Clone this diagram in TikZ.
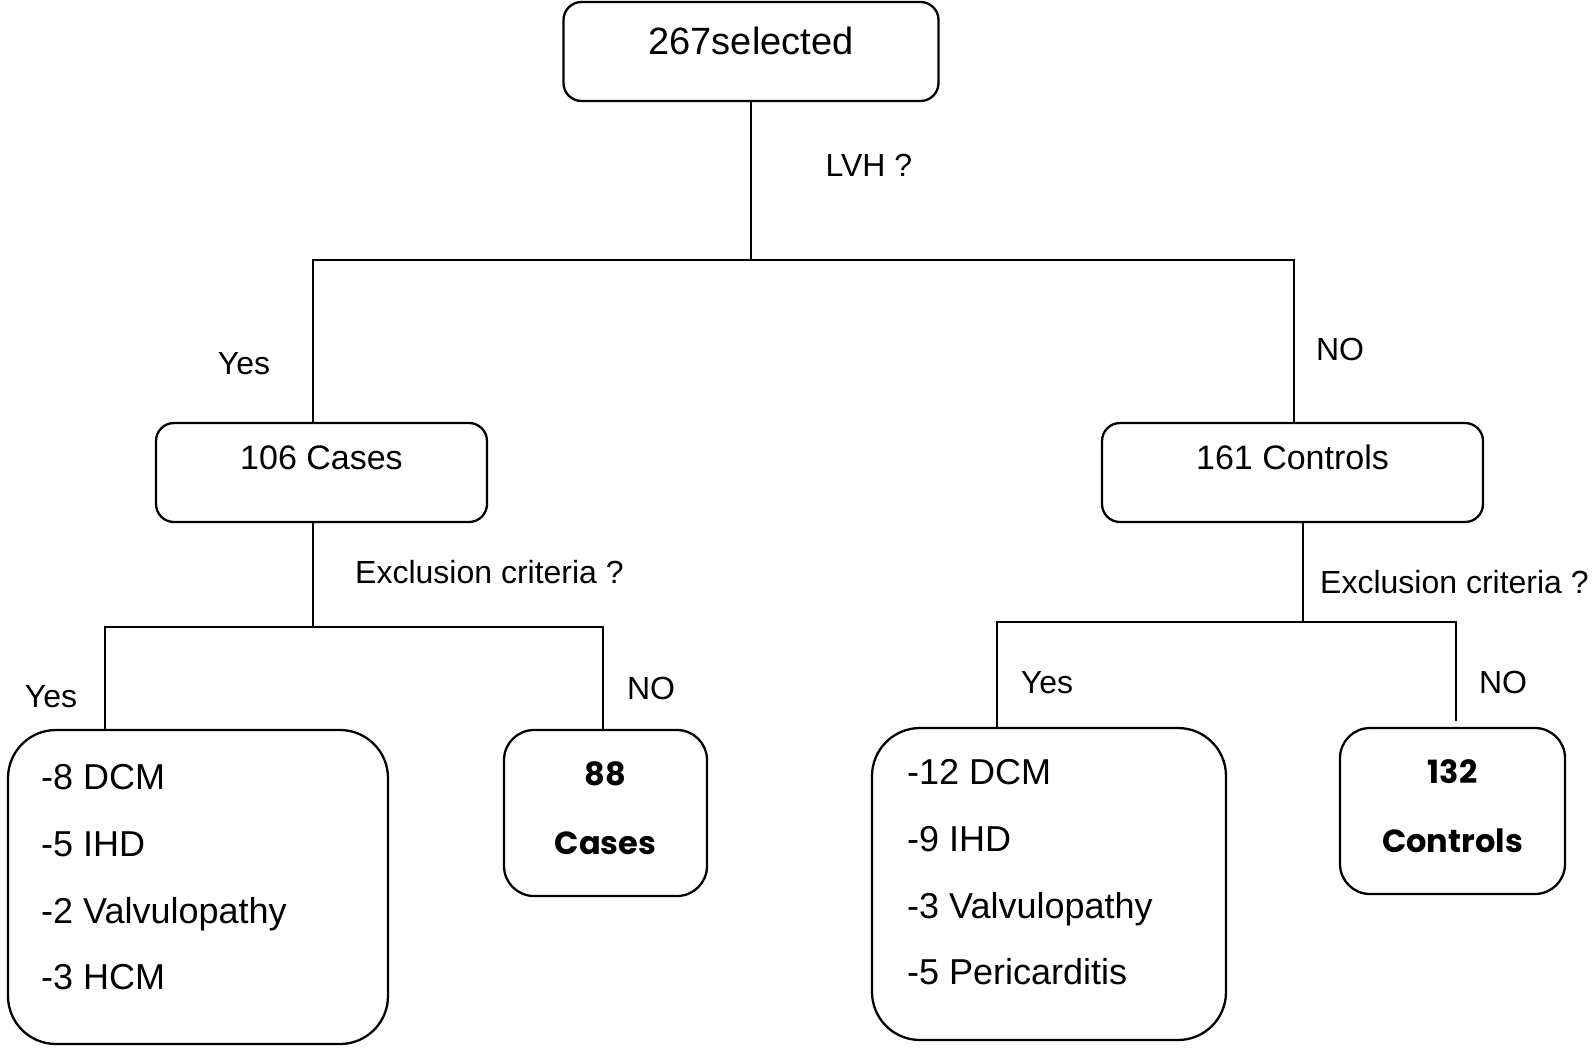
\documentclass[tikz,border=0pt]{standalone}
\usepackage{fontspec}
\setmainfont{Liberation Sans}
\newfontfamily\gothicfont{Poppins}
\usetikzlibrary{positioning}

\tikzset{
  flowline/.style={line width=2.3pt},
  stagebox/.style={draw, line width=2.3pt, rounded corners=18pt, minimum height=99pt, font=\fontsize{34}{40}\selectfont, text height=26pt, text depth=32pt},
  resultbox/.style={draw, line width=2.3pt, rounded corners=30pt, minimum height=166pt, align=center, text depth=10pt, font=\gothicfont\bfseries\fontsize{32}{69}\selectfont},
  listbox/.style={draw, line width=2.3pt, rounded corners=48pt},
  listtext/.style={anchor=north west, align=left, inner sep=0pt, font=\fontsize{36}{66.7}\selectfont},
  answer/.style={font=\fontsize{32}{38}\selectfont, text height=23pt, text depth=0pt, inner sep=0pt},
}

\begin{document}
\begin{tikzpicture}[x=1pt, y=-1pt]
  \useasboundingbox (0,0) rectangle (1594,1047);

  % Selection
  \node[stagebox, minimum width=375pt, font=\fontsize{38}{44}\selectfont, text depth=20pt] (sel) at (751,51.5) {267selected};
  \node[answer] (lvh) at (869,165) {LVH ?};

  % LVH split
  \node[stagebox, minimum width=331pt] (cases) at (321.5,472.5) {106 Cases};
  \node[stagebox, minimum width=381pt] (ctrl) at (1292.5,472.5) {161 Controls};
  \node[answer] (lvhyeslbl) at (244,363) {Yes};
  \node[answer] (lvhnolbl) at (1340,349) {NO};

  \coordinate (lvhsplit) at (751,260);
  \coordinate (lvhyes) at (313,260);
  \coordinate (lvhno) at (1294,260);
  \draw[flowline] (sel.south) -- (lvhsplit);
  \draw[flowline] (cases.north -| lvhyes) -- (lvhyes) -- (lvhno) -- (ctrl.north -| lvhno);

  % Exclusion among cases
  \node[answer] (casesq) at (489.5,572) {Exclusion criteria ?};
  \node[listbox, minimum width=380pt, minimum height=314pt] (exclcases) at (198,887) {};
  \node[listtext] (exclcasestxt) at (41,764.5) {-8 DCM\\-5 IHD\\-2 Valvulopathy\\-3 HCM};
  \node[resultbox, minimum width=203pt] (casesfinal) at (605.5,813) {88\\Cases};
  \node[answer] (casesyeslbl) at (51,696) {Yes};
  \node[answer] (casesnolbl) at (651,688) {NO};

  \coordinate (cexyes) at (105,627);
  \coordinate (cexno) at (603,627);
  \draw[flowline] (cases.south -| lvhyes) -- (lvhyes |- cexyes);
  \draw[flowline] (exclcases.north -| cexyes) -- (cexyes) -- (cexno) -- (casesfinal.north -| cexno);

  % Exclusion among controls
  \node[answer] (ctrlq) at (1454.5,582) {Exclusion criteria ?};
  \node[listbox, minimum width=354pt, minimum height=312pt] (exclctrl) at (1049,884) {};
  \node[listtext] (exclctrltxt) at (907,759.5) {-12 DCM\\-9 IHD\\-3 Valvulopathy\\-5 Pericarditis};
  \node[resultbox, minimum width=225pt] (ctrlfinal) at (1452.5,811) {132\\Controls};
  \node[answer] (ctrlyeslbl) at (1047,682) {Yes};
  \node[answer] (ctrlnolbl) at (1503,682) {NO};

  \coordinate (texsplit) at (1303,622);
  \coordinate (texyes) at (997,622);
  \coordinate (texno) at (1456,622);
  \coordinate (texend) at (1456,721);
  \draw[flowline] (ctrl.south -| texsplit) -- (texsplit);
  \draw[flowline] (exclctrl.north -| texyes) -- (texyes) -- (texno) -- (texend);
\end{tikzpicture}
\end{document}
